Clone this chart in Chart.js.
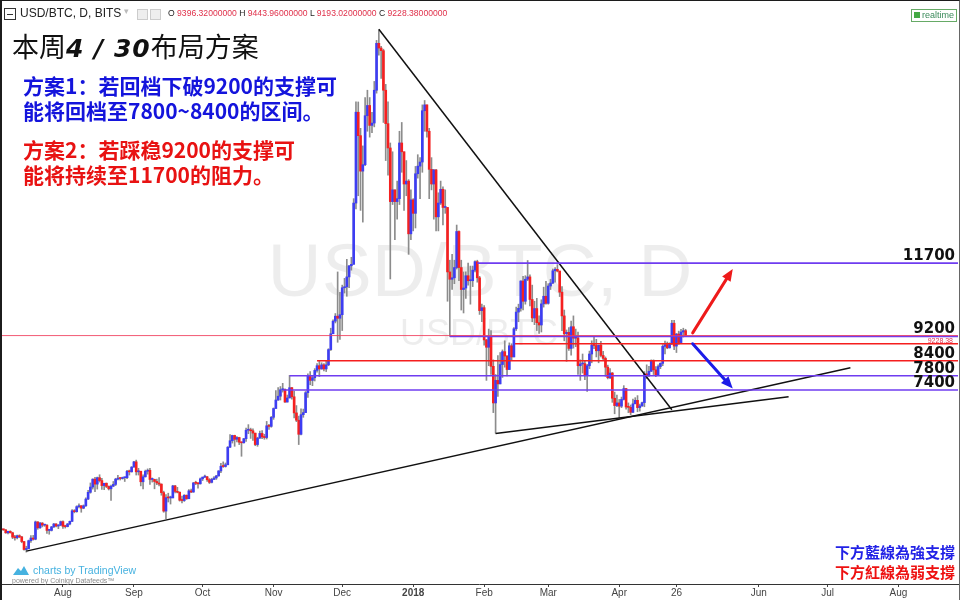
<!DOCTYPE html>
<html><head><meta charset="utf-8">
<script src="https://cdn.jsdelivr.net/npm/chart.js@4/dist/chart.umd.min.js"></script>
<style>
html,body{margin:0;padding:0;background:#fff;}
#wrap{position:relative;width:960px;height:600px;overflow:hidden;background:#fff;}
#c{position:absolute;left:0;top:0;}
#frame{position:absolute;left:0;top:0;width:957px;height:599px;border-left:2px solid #1c1c1c;border-top:1px solid #1c1c1c;border-right:1px solid #666;pointer-events:none;}
.ov{position:absolute;white-space:nowrap;}
#hdrIcon{left:4px;top:8px;width:10px;height:10px;border:1px solid #333;}
#hdrIcon:after{content:"";position:absolute;left:2px;top:5px;width:6px;height:1px;background:#333;}
#hdrSym{left:20px;top:6px;font:12px "Liberation Sans",Arial,sans-serif;color:#222;}
#hdrArrow{left:124px;top:6px;font:9px "Liberation Sans",Arial,sans-serif;color:#bbb;}
.gbox{position:absolute;top:9px;width:9px;height:9px;border:1px solid #ccc;background:#eee;}
#hdrOhlc{left:168px;top:8px;font:8.6px "Liberation Sans",Arial,sans-serif;color:#222;}
#hdrOhlc span{color:#e0304a;}
#rt{left:911px;top:9px;font:9px "Liberation Sans",Arial,sans-serif;color:#3a8a5a;border:1px solid #6a6;padding:0 2px 0 10px;line-height:11px;}
#rt:before{content:"";position:absolute;left:2px;top:2px;width:6px;height:6px;background:#4a4;}
#title{left:12px;top:30px;font:27px "Noto Sans CJK SC",sans-serif;color:#111;line-height:32px;}
#title b{font-family:"DejaVu Sans",sans-serif;font-style:italic;font-weight:bold;font-size:25px;letter-spacing:1px;}
.plan{left:23px;font:bold 21px "Noto Sans CJK SC",sans-serif;line-height:25px;}
#plan1{top:73px;color:#1414dc;}
#plan2{top:137px;color:#e81212;}
.note{right:5px;font:bold 15px "Noto Sans CJK TC",sans-serif;line-height:20px;text-align:right;}
#note1{top:542px;color:#2222e6;}
#note2{top:562px;color:#ee1111;}
#tvText{left:33px;top:564px;font:10.5px "Liberation Sans",Arial,sans-serif;color:#46b2e0;}
#tvPow{left:12px;top:577px;font:7px "Liberation Sans",Arial,sans-serif;color:#8a8a8a;}
#tvIcon{left:12px;top:565px;}
</style></head><body>
<div id="wrap">
<canvas id="c" width="960" height="600"></canvas>
<div id="frame"></div>
<div class="ov" id="hdrIcon"></div>
<div class="ov" id="hdrSym">USD/BTC, D, BITS</div>
<div class="ov" id="hdrArrow">▾</div>
<div class="gbox" style="left:137px"></div>
<div class="gbox" style="left:150px"></div>
<div class="ov" id="hdrOhlc">O <span>9396.32000000</span> H <span>9443.96000000</span> L <span>9193.02000000</span> C <span>9228.38000000</span></div>
<div class="ov" id="rt">realtime</div>
<div class="ov" id="title">本周<b>4 / 30</b>布局方案</div>
<div class="ov plan" id="plan1">方案1：若回档下破9200的支撑可<br>能将回档至7800~8400的区间。</div>
<div class="ov plan" id="plan2">方案2：若踩稳9200的支撑可<br>能将持续至11700的阻力。</div>
<div class="ov note" id="note1">下方藍線為強支撐</div>
<div class="ov note" id="note2">下方紅線為弱支撐</div>
<svg class="ov" id="tvIcon" width="18" height="11" viewBox="0 0 18 11"><path d="M1 10 L6 3 L9 6 L12 1 L17 10 Z" fill="#46b2e0"/></svg>
<div class="ov" id="tvText">charts by TradingView</div>
<div class="ov" id="tvPow">powered by Coinigy Datafeeds™</div>
</div>
<script>
// x values are days counted from 1 Aug 2017; the first candle is 5 Jul 2017
const firstDay = -27;

const opens = [
 // Jul 2017 (5-31)
 2600,2610,2600,2500,2550,2500,2350,2330,2400,2360,2200,1930,1960,2230,2320,2280,2870,2670,2830,2760,2760,2580,2580,2700,2800,2730,2760,
 // Aug
 2880,2720,2710,2800,2890,3250,3220,3390,3420,3340, 3420,3650,3880,4060,4330,4160,4380,4280,4110,4190, 4080,4000,4090,4150,4330,4360,4350,4380,4380,4600,4580,
 // Sep
 4740,4920,4580,4600,4240,4410,4600,4630,4320,4320, 4250,4200,4160,3870,3240,3700,3690,3690,4100,3910, 3880,3610,3600,3780,3660,3930,3890,4200,4190,4170,
 // Oct
 4340,4400,4410,4310,4220,4320,4370,4440,4610,4770, 4760,4820,5420,5640,5820,5690,5750,5590,5570,5710, 6000,6010,5980,5900,5510,5730,5890,5770,5750,6150,6130,
 // Nov
 6440,6740,7030,7160,7380,7390,6960,7100,7450,7140, 6590,6340,5860,6530,6600,7280,7850,7700,7790,8040, 8200,8090,8230,8090,8230,8750,9290,9720,9890,9820,
 // Dec
 9940,10860,10890,11230,11610,11660,13750,16850,16050,14840, 15060,16730,17080,16400,16480,17600,19200,19040,18950,17600, 16460,15630,13800,14200,13800,13900,15800,15500,14400,14500,12700,
 // Jan 2018
 13860,13400,14750,15010,15150,16900,17100,16200,14900,14400, 14880,13280,13750,14220,13600,13600,11400,11150,11200,11550, 12780,11550,10800,10850,11270,11100,11100,11460,11750,11200,10080,
 // Feb
 10180,9080,8830,9200,8180,6930,7700,7580,8240,8680, 8530,8070,8880,8500,9460,10030,10160,11090,10400,11150, 11230,10460,9830,10150,9670,9590,10310,10570,
 // Mar
 10330,10920,11020,11440,11490,11430,10710,9900,9290,9340, 8790,9530,9140,9150,8200,8260,8270,7870,8200,8600, 8900,8890,8710,8900,8550,8450,8150,7790,7950,7090,6840,
 // Apr
 6930,6820,7050,7420,6790,6780,6610,6900,7020,6770, 6830,6940,7920,7890,8010,8360,8060,7890,8170,8280, 8860,8920,8810,8950,9650,8870,9280,8990,9350,9396.32
];

const highs = [
 2640,2630,2610,2560,2570,2520,2410,2420,2430,2380,2210,2040,2250,2400,2410,2900,2880,2860,2850,2790,2780,2620,2720,2820,2810,2780,2900,
 2910,2760,2820,2900,3290,3290,3420,3490,3430,3450, 3690,3950,4200,4340,4390,4400,4480,4360,4190,4200, 4100,4130,4250,4360,4460,4380,4400,4390,4630,4640,4760,
 4940,4980,4700,4600,4480,4640,4680,4700,4370,4330, 4330,4380,4170,3920,3800,3850,3750,4120,4120,4050, 3900,3750,3800,3790,3970,3990,4220,4260,4210,4370,
 4400,4470,4430,4350,4360,4420,4460,4620,4870,4920, 4880,5440,5850,5830,5830,5780,5760,5600,5720,6070, 6190,6070,6050,5900,5760,5970,5990,5860,6300,6200,6470,
 6760,7350,7450,7490,7600,7410,7200,7870,7460,7330, 6840,6480,6730,6720,7320,7920,8000,7850,8100,8270, 8350,8300,8270,8350,8780,9480,9770,9980,11400,10700,
 10950,11180,11830,11620,11900,13900,17200,17200,16300,15700, 17350,17600,17350,16850,17900,19300,19660,19100,19000,17800, 17200,15800,15500,14200,14500,16200,16500,15500,15200,14550,14200,
 13900,15000,15400,15300,17100,17250,17100,16300,15300,14900, 14900,14100,14500,14300,14200,13600,11800,12000,11800,13000, 12800,11800,11400,11400,11700,11600,11600,11780,11800,11250,10300,
 10250,9100,9450,9400,8400,7900,8550,8650,8740,9050, 8550,8980,8950,9500,10200,10300,11100,11250,11270,11790, 11300,10950,10400,10500,9900,10450,10880,11080,
 11000,11150,11500,11550,11650,11430,10900,10100,9420,9500, 9720,9900,9450,9350,8400,8600,8350,8250,8700,9050, 9180,9100,8900,9030,8690,8500,8220,8100,7970,7300,7200,
 7050,7130,7520,7430,6930,6860,7060,7110,7180,6890, 6960,8000,8230,8180,8400,8400,8170,8230,8300,8920, 9040,9010,8980,9750,9750,9300,9380,9440,9480,9443.96
];

const lows = [
 2560,2580,2480,2460,2490,2300,2250,2290,2330,2160,1910,1840,1950,2170,2250,2260,2620,2650,2700,2720,2480,2450,2560,2680,2700,2640,2740,
 2650,2660,2700,2770,2880,3180,3200,3350,3200,3320, 3400,3630,3850,3990,3900,3990,4230,3980,3970,4040, 3960,3600,4070,4110,4300,4300,4330,4250,4350,4470,4570,
 4740,4470,4470,4100,4000,4400,4500,4150,4230,4000, 4140,4100,3780,3200,2980,3550,3480,3690,3860,3860, 3580,3520,3570,3640,3660,3870,3880,4140,4020,4160,
 4280,4380,4250,4180,4200,4310,4320,4430,4550,4730, 4740,4820,5400,5560,5450,5600,5510,5110,5560,5620, 5880,5720,5650,5470,5450,5720,5710,5690,5700,6030,6100,
 6370,6740,7020,7030,7300,6950,6960,7100,7060,6420, 6290,5510,5840,6440,6600,7120,7550,7520,7680,7980, 7830,8080,8020,8000,8200,8720,9290,9660,9000,9100,
 9400,10680,10570,10860,11460,11660,13550,14000,13500,13100, 15030,16200,16000,16150,16350,17500,18800,18000,16500,15200, 14700,11160,13700,12500,13200,13700,14800,13500,14000,12000,12500,
 12800,12900,14600,13900,14800,16200,16000,13900,14200,13200, 12800,12800,13700,13000,13400,10400,9200,10800,11000,11500, 11100,10100,10000,10500,10950,10300,10900,11400,11050,9950,9700,
 8900,7700,8200,7900,6600,5900,7150,7580,7800,8150, 7850,8070,8380,8500,9400,9700,10060,10100,10300,11100, 10240,9700,9600,9400,9300,9350,10200,10300,
 10300,10800,11000,11050,11400,10560,9400,9050,8350,8720, 8560,8800,8850,7900,7700,7950,7720,7320,8100,8300, 8780,8500,8300,8500,8400,7840,7750,7760,6950,6560,6800,
 6430,6770,7030,6720,6600,6530,6600,6900,6630,6650, 6810,6800,7760,7830,8000,7900,7830,7870,8100,8200, 8600,8780,8800,8920,8750,8650,8930,8990,9180,9193.02
];

const closes = [
 2610,2600,2500,2550,2500,2350,2330,2400,2360,2200,1930,1960,2230,2320,2280,2870,2670,2830,2760,2760,2580,2580,2700,2800,2730,2760,2880,
 2720,2710,2800,2890,3250,3220,3390,3420,3340,3420, 3650,3880,4060,4330,4160,4380,4280,4110,4190,4080, 4000,4090,4150,4330,4360,4350,4380,4380,4600,4580,4740,
 4920,4580,4600,4240,4410,4600,4630,4320,4320,4250, 4200,4160,3870,3240,3700,3690,3690,4100,3910,3880, 3610,3600,3780,3660,3930,3890,4200,4190,4170,4340,
 4400,4410,4310,4220,4320,4370,4440,4610,4770,4760, 4820,5420,5640,5820,5690,5750,5590,5570,5710,6000, 6010,5980,5900,5510,5730,5890,5770,5750,6150,6130,6440,
 6740,7030,7160,7380,7390,6960,7100,7450,7140,6590, 6340,5860,6530,6600,7280,7850,7700,7790,8040,8200, 8090,8230,8090,8230,8750,9290,9720,9890,9820,9940,
 10860,10890,11230,11610,11660,13750,16850,16050,14840,15060, 16730,17080,16400,16480,17600,19200,19040,18950,17600,16460, 15630,13800,14200,13800,13900,15800,15500,14400,14500,12700,13860,
 13400,14750,15010,15150,16900,17100,16200,14900,14400,14880, 13280,13750,14220,13600,13600,11400,11150,11200,11550,12780, 11550,10800,10850,11270,11100,11100,11460,11750,11200,10080,10180,
 9080,8830,9200,8180,6930,7700,7580,8240,8680,8530, 8070,8880,8500,9460,10030,10160,11090,10400,11150,11230, 10460,9830,10150,9670,9590,10310,10570,10330,
 10920,11020,11440,11490,11430,10710,9900,9290,9340,8790, 9530,9140,9150,8200,8260,8270,7870,8200,8600,8900, 8890,8710,8900,8550,8450,8150,7790,7950,7090,6840,6930,
 6820,7050,7420,6790,6780,6610,6900,7020,6770,6830, 6940,7920,7890,8010,8360,8060,7890,8170,8280,8860, 8920,8810,8950,9650,8870,9280,8990,9350,9396.32,9228.38
];

const tickDays   = [0, 31, 61, 92, 122, 153, 184, 212, 243, 268, 304, 334, 365];
const tickLabels = ['Aug','Sep','Oct','Nov','Dec','2018','Feb','Mar','Apr','26','Jun','Jul','Aug'];

// horizontal support / resistance levels (price, first day, label, kind)
const levelPrices    = [11700, 9200, 8950, 8370, 7860, 7370];
const levelStartDays = [181, 169, 197.5, 111, 99, 96];
const levelLabels    = ['11700', '9200', '', '8400', '7800', '7400'];
const levelKinds     = ['strong', 'strong', 'weak', 'weak', 'strong', 'strong'];
const lastPrice = 9228.38;

// trend lines: [day, price] end points
const trendDown  = [[138, 19680], [266, 6700]];
const trendLong  = [[-16, 1874], [344, 8130]];
const trendShort = [[189, 5886], [317, 7145]];

// scenario arrows: [day, price] from -> to
const arrowUp   = [[275.1, 9320], [292.6, 11500]];
const arrowDown = [[275.1, 8950], [292.6, 7420]];

const X_MIN = -27.5, X_MAX = 391, Y_MIN = 752, Y_MAX = 19928;
const UP = '#3d3df2', DOWN = '#f52020', WICK = '#8c8c8c';
const PURPLE = '#6f3cf0', RED = '#f51e1e';

const days = closes.map((_, i) => firstDay + i);
const candleColor = ctx => closes[ctx.dataIndex] >= opens[ctx.dataIndex] ? UP : DOWN;

const lineDs = (pts, color, width) => ({
  type: 'line',
  data: pts.map(p => ({x: p[0], y: p[1]})),
  borderColor: color, borderWidth: width, pointRadius: 0, fill: false, order: 0
});

const datasets = [
  { type: 'bar', label: 'body', data: days.map((d, i) => ({x: d, y: [opens[i], closes[i]]})),
    backgroundColor: candleColor, barThickness: 2, minBarLength: 1, grouped: false, order: 1 },
  { type: 'bar', label: 'wick', data: days.map((d, i) => ({x: d, y: [lows[i], highs[i]]})),
    backgroundColor: WICK, barThickness: 1, grouped: false, order: 2 },
  lineDs([[X_MIN, lastPrice], [X_MAX, lastPrice]], 'rgba(240,60,90,0.85)', 1)
];
levelPrices.forEach((p, i) => {
  datasets.push(lineDs([[levelStartDays[i], p], [X_MAX, p]], levelKinds[i] === 'strong' ? PURPLE : RED, 1.6));
});
[trendDown, trendLong, trendShort].forEach(t => datasets.push(lineDs(t, '#111', 1.5)));

const overlay = {
  id: 'overlay',
  beforeDatasetsDraw(chart) {
    const c = chart.ctx;
    c.save();
    c.fillStyle = 'rgba(0,0,0,0.07)';
    c.textAlign = 'center';
    c.textBaseline = 'alphabetic';
    c.font = '75px "Liberation Sans", Arial, sans-serif';
    c.fillText('USD/BTC, D', 480, 296);
    c.font = '36px "Liberation Sans", Arial, sans-serif';
    c.fillText('USD/BTC', 479, 345);
    c.restore();
  },
  afterDatasetsDraw(chart) {
    const c = chart.ctx, xs = chart.scales.x, ys = chart.scales.y;
    const px = p => [xs.getPixelForValue(p[0]), ys.getPixelForValue(p[1])];
    const arrow = (pts, color) => {
      const [x0, y0] = px(pts[0]), [x1, y1] = px(pts[1]);
      const a = Math.atan2(y1 - y0, x1 - x0), L = 12, W = 5;
      c.save();
      c.strokeStyle = color; c.fillStyle = color; c.lineWidth = 3; c.lineCap = 'round';
      c.beginPath(); c.moveTo(x0, y0);
      c.lineTo(x1 - Math.cos(a) * L * 0.8, y1 - Math.sin(a) * L * 0.8); c.stroke();
      c.beginPath(); c.moveTo(x1, y1);
      c.lineTo(x1 - Math.cos(a) * L - Math.sin(a) * W, y1 - Math.sin(a) * L + Math.cos(a) * W);
      c.lineTo(x1 - Math.cos(a) * L + Math.sin(a) * W, y1 - Math.sin(a) * L - Math.cos(a) * W);
      c.closePath(); c.fill();
      c.restore();
    };
    arrow(arrowUp, '#ee1a1a');
    arrow(arrowDown, '#1c1ce8');
    c.save();
    c.textAlign = 'right'; c.textBaseline = 'alphabetic';
    c.fillStyle = '#111';
    c.font = 'bold 15px "DejaVu Sans", sans-serif';
    levelPrices.forEach((p, i) => {
      if (levelLabels[i]) c.fillText(levelLabels[i], 955, ys.getPixelForValue(p) - 3);
    });
    c.fillStyle = '#e0304a';
    c.font = '7px "Liberation Sans", Arial, sans-serif';
    c.fillText(lastPrice.toFixed(2), 953, ys.getPixelForValue(lastPrice) + 7);
    c.restore();
  }
};

new Chart(document.getElementById('c'), {
  type: 'bar',
  data: { datasets },
  plugins: [overlay],
  options: {
    responsive: false, animation: false,
    layout: { padding: { top: 22, right: 2, bottom: 1, left: 0 } },
    plugins: { legend: { display: false }, tooltip: { enabled: false } },
    scales: {
      x: {
        type: 'linear', min: X_MIN, max: X_MAX, position: 'bottom', offset: false,
        afterBuildTicks: s => { s.ticks = tickDays.map(v => ({ value: v })); },
        ticks: {
          autoSkip: false, maxRotation: 0, padding: 0, color: '#444',
          callback: v => { const k = tickDays.indexOf(v); return k >= 0 ? tickLabels[k] : ''; },
          font: ctx => ({ family: '"Liberation Sans", Arial, sans-serif', size: 10,
            weight: (ctx.tick && tickLabels[tickDays.indexOf(ctx.tick.value)] === '2018') ? 'bold' : 'normal' })
        },
        grid: { display: true, offset: false, drawOnChartArea: false, drawTicks: true, tickLength: 3, color: '#444' },
        border: { display: true, color: '#333', width: 1 }
      },
      y: { type: 'linear', display: false, min: Y_MIN, max: Y_MAX }
    }
  }
});
</script>
</body></html>
